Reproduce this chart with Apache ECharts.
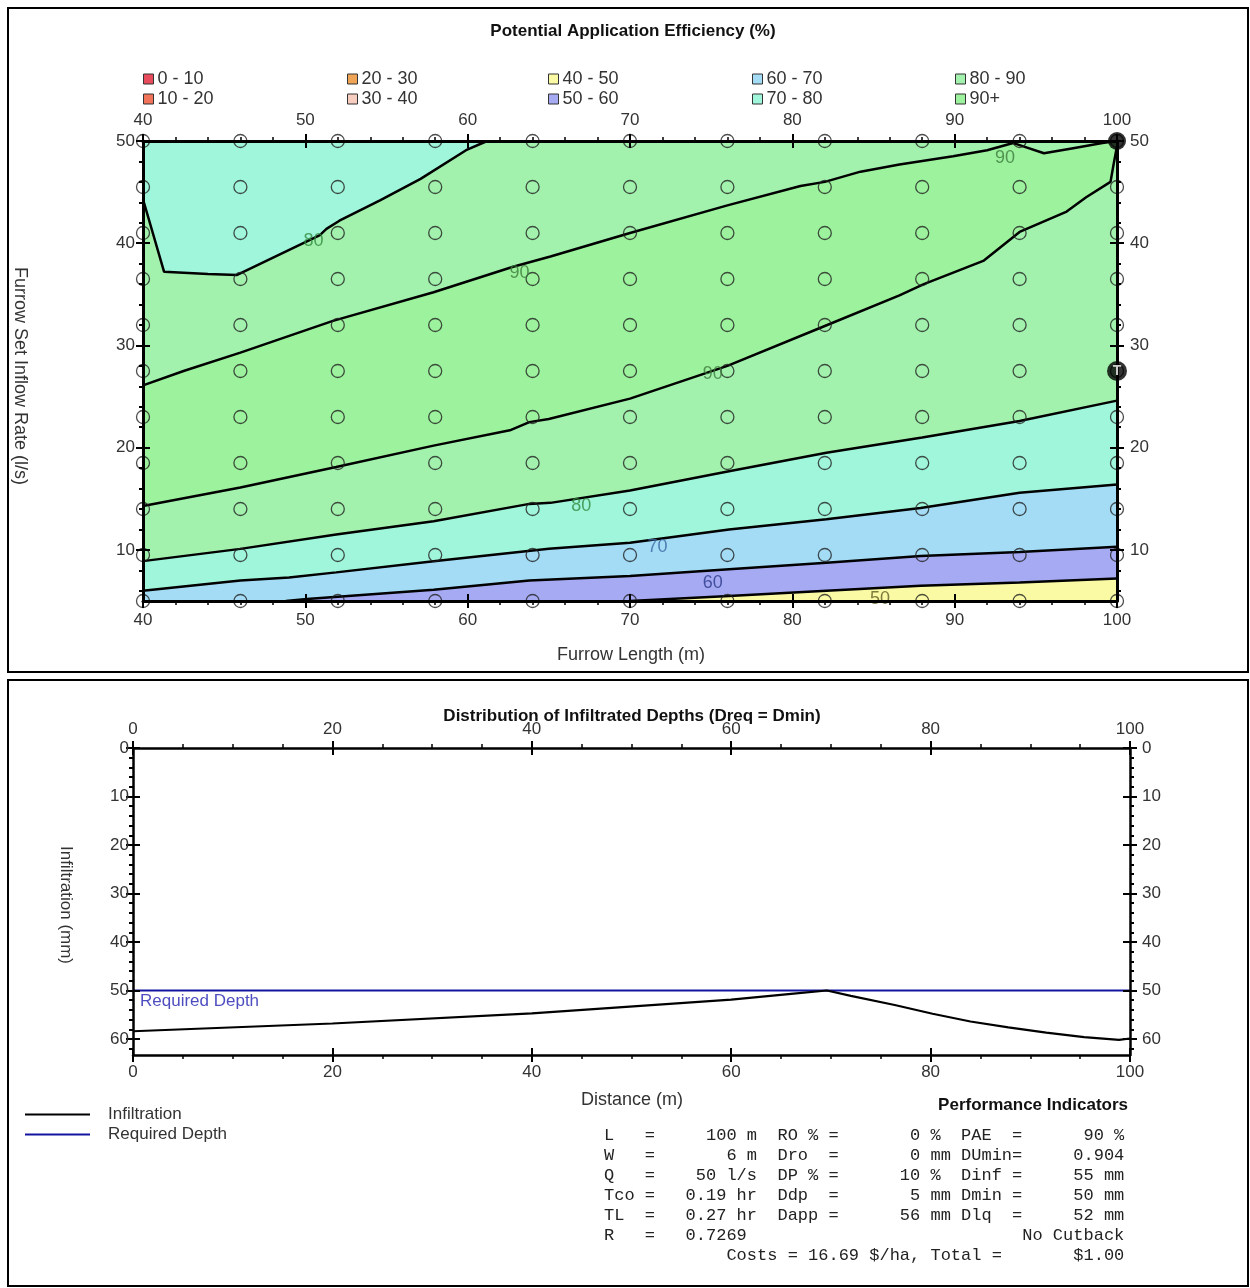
<!DOCTYPE html>
<html>
<head>
<meta charset="utf-8">
<script src="https://cdn.jsdelivr.net/npm/echarts@6/dist/echarts.min.js"></script>
<style>
  html, body { margin: 0; background: #fff; }
  #main { width: 1250px; height: 1288px; }
</style>
</head>
<body>
<div id="main"></div>
<script>
// ── Top chart: Potential Application Efficiency contour ─────────────────────
var nodeX = [40, 46, 52, 58, 64, 70, 76, 82, 88, 94, 100];
var nodeY = [50, 45.5, 41, 36.5, 32, 27.5, 23, 18.5, 14, 9.5, 5];
var xTicksTop = [40, 100, 10];          // min, max, interval (furrow length)
var yTicksTop = [10, 20, 30, 40, 50];   // labelled inflow ticks
var yRangeTop = [5, 50];

var bandNames = ['0 - 10', '10 - 20', '20 - 30', '30 - 40', '40 - 50',
                 '50 - 60', '60 - 70', '70 - 80', '80 - 90', '90+'];
var bandColors = ['#e84c5c', '#f0735a', '#f0a456', '#f6cdbf', '#fafaa4',
                  '#a6aaf2', '#a4dcf6', '#a0f6da', '#a2f2ae', '#9df29d'];

// contour lines: [furrow length, inflow]
var line80Top = [[40, 44.3], [41.3, 37.2], [44, 37.0], [45.8, 36.9], [50.9, 40.8], [51.3, 41.4],
                 [52.1, 42.2], [54.6, 44.2], [57.1, 46.3], [59.9, 49.1], [61.2, 50]];
var line90Upper = [[40, 26.1], [42.5, 27.5], [46, 29.3], [51.7, 32.4], [57.9, 35.2], [62.8, 37.7],
                   [65.1, 38.7], [70, 41.0], [76, 43.7], [80.5, 45.6], [82, 46.0], [84.2, 47.0],
                   [86.6, 47.7], [89.9, 48.5], [92, 49.1], [93.6, 49.8], [94, 49.6], [95.5, 48.8],
                   [97.3, 49.3], [99.1, 49.8], [100, 50]];
var line90Lower = [[40, 14.3], [46, 16.1], [51.9, 18.1], [57.9, 20.2], [62.6, 21.7], [63.8, 22.5],
                   [65, 22.8], [70, 24.8], [76, 28.0], [82, 31.9], [86.6, 34.9], [88.1, 36.0],
                   [91.8, 38.3], [94, 41.1], [96.9, 43.1], [98.1, 44.5], [99.6, 46.0], [99.8, 47.8],
                   [100, 49.5]];
var line80 = [[40, 8.9], [46, 10.1], [51.9, 11.5], [57.9, 12.8], [63.8, 14.5], [65.1, 14.6],
              [70, 15.8], [76.1, 17.7], [82.1, 19.5], [88, 21.0], [94, 22.6], [100, 24.6]];
var line70 = [[40, 6.0], [46, 7.0], [49, 7.3], [51.9, 7.8], [57.9, 8.9], [65, 10.1], [70, 10.7],
              [76.1, 12.0], [82.1, 13.0], [87.9, 14.1], [94, 15.6], [100, 16.4]];
var line60 = [[48.8, 5], [50.1, 5.2], [57.9, 6.1], [63.8, 7.0], [70, 7.45], [76.1, 8.1],
              [82.1, 8.75], [87.9, 9.4], [94, 9.8], [100, 10.3]];
var line50 = [[70, 5], [76.1, 5.5], [82.1, 6.0], [87.9, 6.5], [94, 6.8], [100, 7.2]];

// contour labels: [x, y, text, colour]
var contourLabels = [[50.5, 40.2, '80', '#2f8a3c'], [63.2, 37.1, '90', '#3c7a3c'],
                     [75.1, 27.2, '90', '#3c7a3c'], [67.0, 14.3, '80', '#2f8a3c'],
                     [71.7, 10.3, '70', '#3b66a0'], [75.1, 6.8, '60', '#2b3a8a'],
                     [85.4, 5.2, '50', '#5e5e24'], [93.1, 48.3, '90', '#3c7a3c']];

var currentPoint = [100, 50];
var triggerPoint = [100, 27.5];

// ── Bottom chart: Distribution of infiltrated depths ──────────────────────────
var distance = [0, 20, 40, 60, 66, 69.6, 72, 76.4, 80.2, 84, 87.8, 91.6, 95.4, 98.9, 100];
var infiltration = [58.4, 56.8, 54.7, 51.9, 50.7, 50.0, 51.1, 53.0, 54.8, 56.4, 57.6, 58.7, 59.6, 60.2, 59.9];
var requiredDepth = 50;
var yTicksBottom = [0, 10, 20, 30, 40, 50, 60];
var yRangeBottom = [0, 63.3];

// ── Performance indicators text ──────────────────────────────────────────────
var perfLabel1 = ['L   =', 'W   =', 'Q   =', 'Tco =', 'TL  =', 'R   ='];
var perfValue1 = ['100 m', '6 m', '50 l/s', '0.19 hr', '0.27 hr', '0.7269 '];
var perfLabel2 = ['RO % =', 'Dro  =', 'DP % =', 'Ddp  =', 'Dapp =', ''];
var perfNum2 = ['0', '0', '10', '5', '56', ''];
var perfUnit2 = [' %', ' mm', ' %', ' mm', ' mm', ''];
var perfLabel3 = ['PAE  =', 'DUmin=', 'Dinf =', 'Dmin =', 'Dlq  =', ''];
var perfValue3 = ['90 %', '0.904', '55 mm', '50 mm', '52 mm', 'No Cutback'];
var costPerHa = '16.69';
var totalCost = '$1.00';

var FONT = "'Liberation Sans', Arial, sans-serif";
var MONO = "'Liberation Mono', 'Courier New', monospace";
var TXT = '#333';

function col(s, w, right) {
  s = String(s);
  while (s.length < w) s = right ? ' ' + s : s + ' ';
  return s;
}

var perfRows = perfLabel1.map(function (l, i) {
  return col(l, 5) + col(perfValue1[i], 10, true) + '  ' + col(perfLabel2[i], 6) +
    col(perfNum2[i], 8, true) + col(perfUnit2[i], 4) + col(perfLabel3[i], 6) +
    col(perfValue3[i], 10, true);
});
perfRows.push(col(col('', 12) + 'Costs = ' + costPerHa + ' $/ha, Total =', 46) + col(totalCost, 5, true));

var bandColor = {};
bandNames.forEach(function (n, i) { bandColor[n] = bandColors[i]; });

// ── axis helper ──────────────────────────────────────────────────────────────
function valAxis(grid, pos, o) {
  var a = {
    type: 'value', gridIndex: grid, position: pos, min: o.min, max: o.max, z: 10,
    inverse: !!o.inverse,
    splitLine: { show: false },
    axisLine: { show: !!o.line, onZero: false, lineStyle: { color: '#000', width: o.lw || 3 } },
    axisTick: { show: o.tick !== false, inside: !!o.inside, length: o.tickLen || 7,
                lineStyle: { color: '#000', width: 2 } },
    axisLabel: { show: !!o.labels, color: TXT, fontFamily: FONT, fontSize: 17, margin: o.margin || 8 },
    silent: true
  };
  if (o.interval) a.interval = o.interval;
  if (o.ticks) a.axisTick.customValues = o.ticks;
  if (o.labelValues) a.axisLabel.customValues = o.labelValues;
  if (o.minor) a.minorTick = { show: true, splitNumber: o.minor, length: 4, lineStyle: { color: '#000', width: 1.5 } };
  return a;
}

function minorValues(lo, hi, step, major) {
  var out = [];
  for (var v = lo; v <= hi + 1e-9; v += step) {
    var r = Math.round(v * 10) / 10;
    if (major.indexOf(r) < 0) out.push(r);
  }
  return out;
}

var yMinorTop = minorValues(6, 50, 2, yTicksTop);
var yMinorBottom = minorValues(0, yRangeBottom[1], 2, yTicksBottom);

var xAxes = [
  // top chart
  valAxis(0, 'bottom', { min: xTicksTop[0], max: xTicksTop[1], interval: xTicksTop[2], line: true, labels: true, minor: 5, margin: 11 }),
  valAxis(0, 'top', { min: xTicksTop[0], max: xTicksTop[1], interval: xTicksTop[2], line: true, labels: true, minor: 5, margin: 12 }),
  valAxis(0, 'bottom', { min: xTicksTop[0], max: xTicksTop[1], interval: xTicksTop[2], inside: true }),
  valAxis(0, 'top', { min: xTicksTop[0], max: xTicksTop[1], interval: xTicksTop[2], inside: true }),
  // bottom chart
  valAxis(1, 'bottom', { min: 0, max: 100, interval: 20, line: true, labels: true, minor: 4, lw: 2.5, margin: 9 }),
  valAxis(1, 'top', { min: 0, max: 100, interval: 20, line: true, labels: true, minor: 4, lw: 2.5, margin: 10 }),
  valAxis(1, 'bottom', { min: 0, max: 100, interval: 20, inside: true }),
  valAxis(1, 'top', { min: 0, max: 100, interval: 20, inside: true })
];

var yAxes = [
  // top chart
  valAxis(0, 'left', { min: yRangeTop[0], max: yRangeTop[1], ticks: yTicksTop, labelValues: yTicksTop, line: true, labels: true, margin: 8 }),
  valAxis(0, 'right', { min: yRangeTop[0], max: yRangeTop[1], ticks: yTicksTop, labelValues: yTicksTop, line: true, labels: true, margin: 13 }),
  valAxis(0, 'left', { min: yRangeTop[0], max: yRangeTop[1], ticks: yTicksTop, inside: true }),
  valAxis(0, 'right', { min: yRangeTop[0], max: yRangeTop[1], ticks: yTicksTop, inside: true }),
  valAxis(0, 'left', { min: yRangeTop[0], max: yRangeTop[1], ticks: yMinorTop, tickLen: 4 }),
  valAxis(0, 'right', { min: yRangeTop[0], max: yRangeTop[1], ticks: yMinorTop, tickLen: 4 }),
  // bottom chart
  valAxis(1, 'left', { min: yRangeBottom[0], max: yRangeBottom[1], inverse: true, ticks: yTicksBottom, labelValues: yTicksBottom, line: true, labels: true, lw: 2.5, margin: 4 }),
  valAxis(1, 'right', { min: yRangeBottom[0], max: yRangeBottom[1], inverse: true, ticks: yTicksBottom, labelValues: yTicksBottom, line: true, labels: true, lw: 2.5, margin: 12 }),
  valAxis(1, 'left', { min: yRangeBottom[0], max: yRangeBottom[1], inverse: true, ticks: yTicksBottom, inside: true }),
  valAxis(1, 'right', { min: yRangeBottom[0], max: yRangeBottom[1], inverse: true, ticks: yTicksBottom, inside: true }),
  valAxis(1, 'left', { min: yRangeBottom[0], max: yRangeBottom[1], inverse: true, ticks: yMinorBottom, tickLen: 4 }),
  valAxis(1, 'right', { min: yRangeBottom[0], max: yRangeBottom[1], inverse: true, ticks: yMinorBottom, tickLen: 4 })
];

// ── series ───────────────────────────────────────────────────────────────────
function fillSeries(band, pts, origin) {
  return {
    type: 'line', name: band, xAxisIndex: 0, yAxisIndex: 0, data: pts,
    symbol: 'none', silent: true, z: 1, color: bandColor[band],
    itemStyle: { color: bandColor[band] },
    lineStyle: { width: 0 },
    areaStyle: { color: bandColor[band], opacity: 1, origin: origin || 'start' }
  };
}

function contourSeries(pts) {
  return {
    type: 'line', xAxisIndex: 0, yAxisIndex: 0, data: pts, symbol: 'none', silent: true, z: 3,
    lineStyle: { color: '#000', width: 2.5 }
  };
}

var series = [];
// empty bands so the legend lists every class
bandNames.slice(0, 4).forEach(function (n) { series.push(fillSeries(n, [])); });
series.push(fillSeries('80 - 90', [[xTicksTop[0], yRangeTop[1]], [xTicksTop[1], yRangeTop[1]]]));
series.push(fillSeries('70 - 80', line80Top, 'end'));
series.push(fillSeries('90+', line90Upper));
series.push(fillSeries('80 - 90', line90Lower));
series.push(fillSeries('70 - 80', line80));
series.push(fillSeries('60 - 70', line70));
series.push(fillSeries('50 - 60', line60));
series.push(fillSeries('40 - 50', line50));
[line80Top, line90Upper, line90Lower, line80, line70, line60, line50].forEach(function (l) {
  series.push(contourSeries(l));
});

var nodes = [];
nodeX.forEach(function (x) { nodeY.forEach(function (y) { nodes.push([x, y]); }); });
series.push({
  type: 'scatter', xAxisIndex: 0, yAxisIndex: 0, data: nodes, symbol: 'circle', symbolSize: 13,
  clip: false, silent: true, z: 4,
  itemStyle: { color: 'rgba(0,0,0,0)', borderColor: '#222', borderWidth: 1.3 }
});
series.push({
  type: 'scatter', xAxisIndex: 0, yAxisIndex: 0, clip: false, silent: true, z: 6,
  data: contourLabels.map(function (c) {
    return { name: c[2], value: [c[0], c[1]], label: { color: c[3] } };
  }),
  symbolSize: 1, itemStyle: { color: 'rgba(0,0,0,0)' },
  label: { show: true, position: 'inside', formatter: '{b}', fontFamily: FONT, fontSize: 18 }
});
series.push({
  type: 'scatter', xAxisIndex: 0, yAxisIndex: 0, clip: false, silent: true, z: 12,
  data: [currentPoint], symbolSize: 18, itemStyle: { color: '#000' }
});
series.push({
  type: 'scatter', xAxisIndex: 0, yAxisIndex: 0, clip: false, silent: true, z: 12,
  data: [triggerPoint], symbol: 'circle', symbolSize: 20, itemStyle: { color: '#000' },
  label: { show: true, position: 'inside', formatter: 'T', color: '#fff', fontWeight: 'bold',
           fontFamily: FONT, fontSize: 14 }
});

// bottom chart
series.push({
  type: 'line', name: 'Required Depth', xAxisIndex: 4, yAxisIndex: 6,
  data: [[0, requiredDepth], [100, requiredDepth]], symbol: 'none', silent: true, z: 3,
  color: '#1414a0', lineStyle: { color: '#1414a0', width: 2 }
});
series.push({
  type: 'line', name: 'Infiltration', xAxisIndex: 4, yAxisIndex: 6,
  data: distance.map(function (d, i) { return [d, infiltration[i]]; }),
  symbol: 'none', silent: true, z: 4, color: '#000', lineStyle: { color: '#000', width: 2.2 }
});
series.push({
  type: 'scatter', xAxisIndex: 4, yAxisIndex: 6, silent: true, z: 5,
  data: [[0, requiredDepth]], symbolSize: 1, itemStyle: { color: 'rgba(0,0,0,0)' },
  label: { show: true, position: 'inside', align: 'left', offset: [7, 11], formatter: 'Required Depth',
           color: '#2020b0', fontFamily: FONT, fontSize: 17 }
});

// legends
var legendCols = [143, 347, 548, 752, 955];
var legends = legendCols.map(function (left, i) {
  return {
    left: left, top: 70, orient: 'vertical', padding: 0, itemGap: 2,
    itemWidth: 10, itemHeight: 10, icon: 'rect', selectedMode: false,
    data: [bandNames[i * 2], bandNames[i * 2 + 1]],
    itemStyle: { borderColor: '#333', borderWidth: 1 },
    textStyle: { color: TXT, fontFamily: FONT, fontSize: 18, lineHeight: 17, padding: [0, 0, 0, -1] }
  };
});
legends.push({
  left: 25, top: 1106, orient: 'vertical', padding: 0, itemGap: 3,
  itemWidth: 65, itemHeight: 2, icon: 'rect', selectedMode: false,
  data: ['Infiltration', 'Required Depth'],
  itemStyle: { borderWidth: 0 },
  textStyle: { color: TXT, fontFamily: FONT, fontSize: 17, lineHeight: 17, padding: [0, 0, 0, 13] }
});

// texts and panel frames
function txt(x, y, s, o) {
  o = o || {};
  return {
    type: 'text', x: x, y: y, rotation: o.rot || 0, silent: true, z: 20,
    style: { text: s, fill: o.color || TXT, font: (o.weight || 'normal') + ' ' + (o.size || 15) + 'px ' + (o.family || FONT),
             textAlign: o.align || 'center', textVerticalAlign: 'middle' }
  };
}

var graphics = [
  { type: 'rect', shape: { x: 8, y: 8, width: 1240, height: 664 }, style: { fill: 'none', stroke: '#000', lineWidth: 2 }, silent: true },
  { type: 'rect', shape: { x: 8, y: 680, width: 1240, height: 606 }, style: { fill: 'none', stroke: '#000', lineWidth: 2 }, silent: true },
  txt(633, 31, 'Potential Application Efficiency (%)', { weight: 'bold', size: 17, color: '#111' }),
  txt(631, 655, 'Furrow Length (m)', { size: 18 }),
  txt(20, 376, 'Furrow Set Inflow Rate (l/s)', { size: 18, rot: -Math.PI / 2 }),
  txt(632, 716, 'Distribution of Infiltrated Depths (Dreq = Dmin)', { weight: 'bold', size: 17, color: '#111' }),
  txt(632, 1100, 'Distance (m)', { size: 18 }),
  txt(66, 905, 'Infiltration (mm)', { size: 17, rot: -Math.PI / 2 }),
  txt(1128, 1105, 'Performance Indicators', { weight: 'bold', size: 17, align: 'right', color: '#111' })
];
perfRows.forEach(function (r, i) {
  graphics.push(txt(604, 1135 + i * 20, r, { family: MONO, size: 17, align: 'left', color: '#222' }));
});

var chart = echarts.init(document.getElementById('main'));
chart.setOption({
  animation: false,
  backgroundColor: '#fff',
  grid: [
    { left: 143, right: 133, top: 141, bottom: 687 },
    { left: 133, right: 120, top: 748, bottom: 233 }
  ],
  xAxis: xAxes,
  yAxis: yAxes,
  legend: legends,
  series: series,
  graphic: graphics
});
</script>
</body>
</html>
